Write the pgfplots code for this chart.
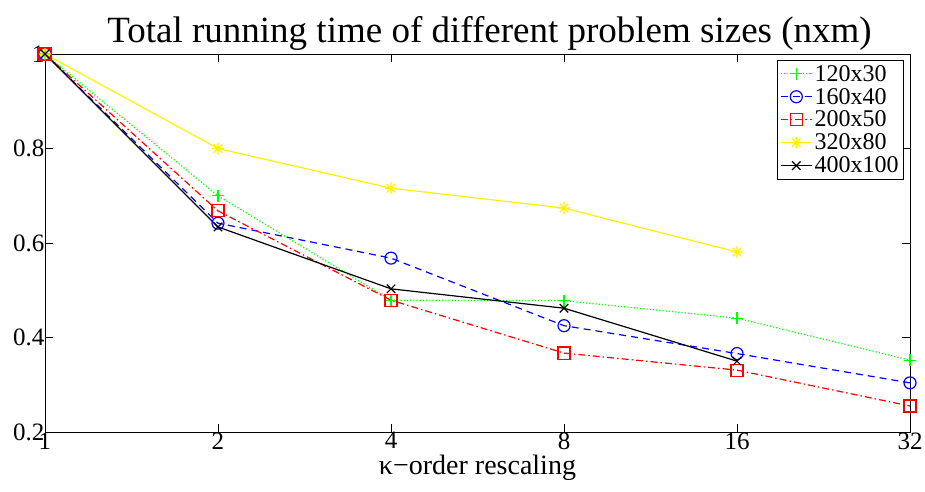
\documentclass[border=0pt]{standalone}
\usepackage{fontspec}
\setmainfont{LiberationSerif}[Extension=.ttf, UprightFont=*-Regular, BoldFont=*-Bold, ItalicFont=*-Italic, BoldItalicFont=*-BoldItalic]
\usepackage{pgfplots}
\pgfplotsset{compat=1.18}
\pgfdeclareplotmark{mstar}{%
  \pgfpathmoveto{\pgfqpoint{-\pgfplotmarksize}{0pt}}\pgfpathlineto{\pgfqpoint{\pgfplotmarksize}{0pt}}%
  \pgfpathmoveto{\pgfqpoint{0pt}{-\pgfplotmarksize}}\pgfpathlineto{\pgfqpoint{0pt}{\pgfplotmarksize}}%
  \pgfpathmoveto{\pgfqpoint{-0.707\pgfplotmarksize}{-0.707\pgfplotmarksize}}\pgfpathlineto{\pgfqpoint{0.707\pgfplotmarksize}{0.707\pgfplotmarksize}}%
  \pgfpathmoveto{\pgfqpoint{-0.707\pgfplotmarksize}{0.707\pgfplotmarksize}}\pgfpathlineto{\pgfqpoint{0.707\pgfplotmarksize}{-0.707\pgfplotmarksize}}%
  \pgfusepathqstroke}
\begin{document}
\begin{tikzpicture}
\begin{axis}[
  at={(0,0)}, anchor=south west,
  scale only axis, width=865pt, height=378pt,
  xmode=log, log basis x=2,
  xmin=1, xmax=32, ymin=0.2, ymax=1,
  xtick={1,2,4,8,16,32}, xticklabels={1,2,4,8,16,32},
  ytick={0.2,0.4,0.6,0.8,1}, yticklabels={0.2,0.4,0.6,0.8,1},
  tick align=inside, major tick length=8pt,
  axis line style={line width=1pt}, every tick/.style={line width=0.8pt, black},
  tick label style={font=\fontsize{25}{29}\selectfont},
  xticklabel style={yshift=3pt},
  yticklabel style={xshift=3pt},
  /pgf/number format/assume math mode=true,
  title={Total running time of different problem sizes (nxm)},
  title style={font=\fontsize{37}{42}\selectfont, yshift=-6pt, xshift=12pt},
  xlabel={κ−order rescaling},
  xlabel style={font=\fontsize{28}{32}\selectfont, at={(axis description cs:0.5,0)}, anchor=north, yshift=-20pt},
  legend style={at={(0.993,0.985)}, anchor=north east, draw=black, line width=0.8pt,
    font=\fontsize{24}{27}\selectfont, row sep=1.5pt, inner sep=3pt,
    cells={anchor=west}},
  legend cell align=left,
  legend image code/.code={\draw[mark repeat=2,mark phase=2] plot coordinates {(0cm,0cm)(0.55cm,0cm)(1.1cm,0cm)};},
  every axis plot/.append style={line width=1.2pt, mark size=6pt},
]
\addplot[color=green, dotted, mark=+, mark options={solid}] coordinates {(1,1) (2,0.70) (4,0.479) (8,0.478) (16,0.441) (32,0.352)};
\addlegendentry{120x30}
\addplot[color=blue, dash pattern=on 7pt off 5pt, mark=o, mark options={solid}] coordinates {(1,1) (2,0.642) (4,0.568) (8,0.425) (16,0.366) (32,0.304)};
\addlegendentry{160x40}
\addplot[color=red, dash pattern=on 7pt off 3pt on 1.5pt off 3pt, mark=square, mark options={solid}] coordinates {(1,1) (2,0.668) (4,0.479) (8,0.367) (16,0.331) (32,0.255)};
\addlegendentry{200x50}
\addplot[color=yellow, solid, mark=mstar] coordinates {(1,1) (2,0.800) (4,0.716) (8,0.674) (16,0.581)};
\addlegendentry{320x80}
\addplot[color=black, solid, mark=x] coordinates {(1,1) (2,0.634) (4,0.503) (8,0.462) (16,0.350)};
\addlegendentry{400x100}
\end{axis}
\pgfresetboundingbox
\path[use as bounding box] (-45pt,-59pt) rectangle (880pt,432pt);
\end{tikzpicture}
\end{document}
